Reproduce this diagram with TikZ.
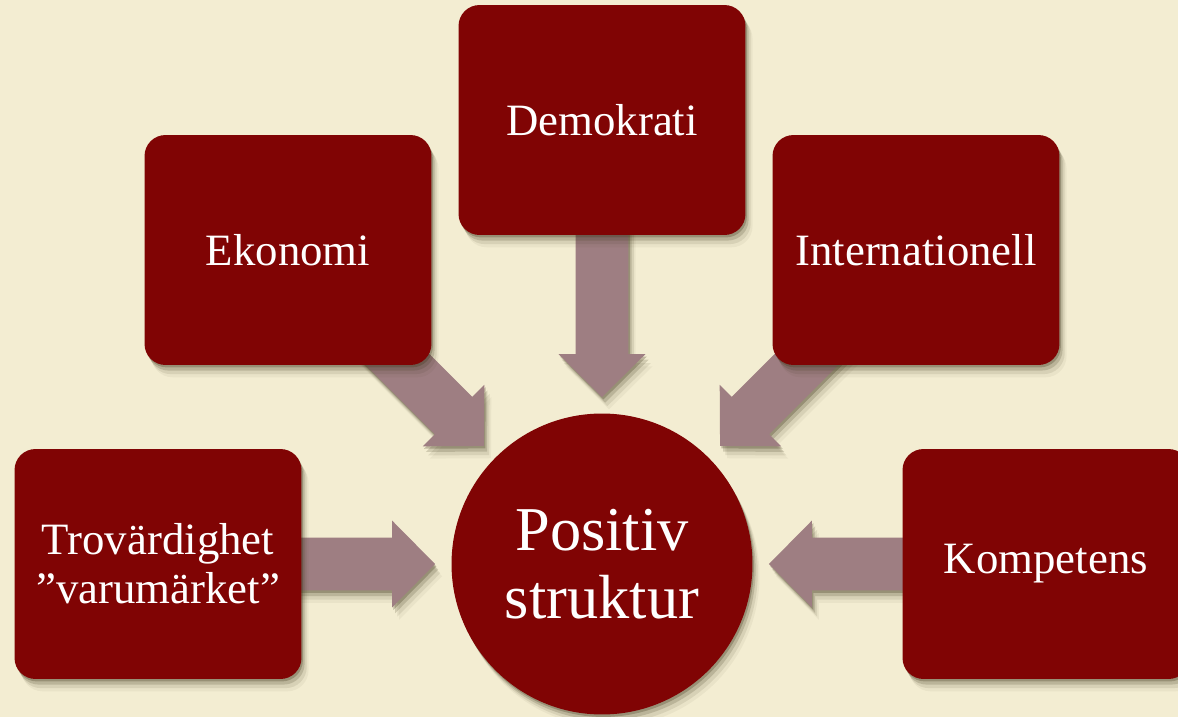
\documentclass[tikz,border=0pt]{standalone}
\usepackage{fontspec}
\setmainfont{Liberation Serif}
\usetikzlibrary{calc,shadows}
\definecolor{bg}{RGB}{243,237,210}
\definecolor{boxred}{RGB}{128,4,4}
\definecolor{arrowcol}{RGB}{158,126,130}
\definecolor{shadecol}{RGB}{60,52,25}
\pgfdeclarelayer{bglayer}
\pgfdeclarelayer{arrowlayer}
\pgfsetlayers{bglayer,arrowlayer,main}
\tikzset{
  softshadow/.style={
    drop shadow={shadow xshift=0.8pt, shadow yshift=-1.4pt, opacity=0.28, fill=shadecol},
    drop shadow={shadow xshift=1.8pt, shadow yshift=-3.2pt, opacity=0.18, fill=shadecol},
    drop shadow={shadow xshift=3.0pt, shadow yshift=-5.2pt, opacity=0.10, fill=shadecol},
    drop shadow={shadow xshift=4.0pt, shadow yshift=-7.0pt, opacity=0.05, fill=shadecol}},
  topicbox/.style={rectangle, rounded corners=0.42cm, fill=boxred,
    minimum width=5.74cm, minimum height=4.6cm, text=white,
    font=\fontsize{25.5}{28}\selectfont, align=center, softshadow},
  hub/.style={circle, fill=boxred, minimum size=6.02cm, inner sep=0pt, text=white,
    font=\fontsize{35.5}{38.5}\selectfont, align=center, softshadow},
  blockarrowfill/.style={fill=arrowcol, softshadow},
}
\newcommand\blockconnect[2]{%
  \coordinate (tip-#1) at ($(#2.center)!3.34cm!(#1.center)$);
  \coordinate (hb-#1) at ($(tip-#1)!0.86cm!(#1.center)$);
  \fill[blockarrowfill] ($(#1.center)!0.53cm!90:(tip-#1)$)
    -- ($(hb-#1)!0.53cm!90:(tip-#1)$)
    -- ($(hb-#1)!0.87cm!90:(tip-#1)$)
    -- (tip-#1)
    -- ($(hb-#1)!0.87cm!-90:(tip-#1)$)
    -- ($(hb-#1)!0.53cm!-90:(tip-#1)$)
    -- ($(#1.center)!0.53cm!-90:(tip-#1)$) -- cycle;
}
\begin{document}
\begin{tikzpicture}[x=0.02cm, y=-0.02cm]
  \useasboundingbox (0,0) rectangle (1178,717);
  \clip (0,0) rectangle (1178,717);
  \begin{pgfonlayer}{bglayer}
    \fill[bg] (0,0) rectangle (1178,717);
  \end{pgfonlayer}

  \node[hub] (hub) at (602,564) {Positiv\\struktur};
  \node[topicbox] (dem) at (602,120) {Demokrati};
  \node[topicbox] (eko) at (288,250) {Ekonomi};
  \node[topicbox] (int) at (916,250) {Internationell};
  \node[topicbox] (trov) at (158,564) {Trovärdighet\\”varumärket”};
  \node[topicbox] (komp) at (1046,564) {Kompetens};

  \begin{pgfonlayer}{arrowlayer}
    \blockconnect{dem}{hub}
    \blockconnect{eko}{hub}
    \blockconnect{int}{hub}
    \blockconnect{trov}{hub}
    \blockconnect{komp}{hub}
  \end{pgfonlayer}
\end{tikzpicture}
\end{document}
